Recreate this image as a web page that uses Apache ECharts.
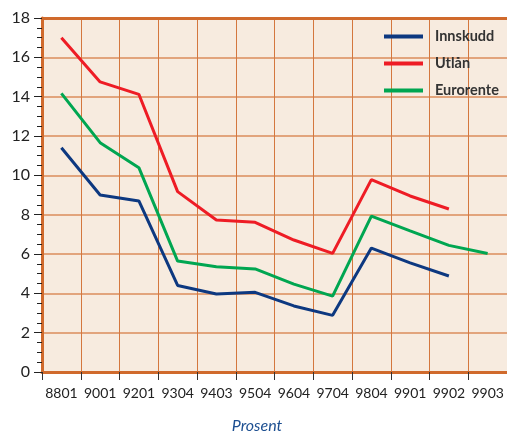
<!DOCTYPE html>
<html><head><meta charset="utf-8">
<script src="https://cdn.jsdelivr.net/npm/echarts@6/dist/echarts.min.js"></script>
<style>html,body{margin:0;padding:0;background:#fff}#c{width:507px;height:434px}</style>
</head><body><div id="c"></div>
<script>
var categories = ['8801','9001','9201','9304','9403','9504','9604','9704','9804','9901','9902','9903'];
var innskudd = [11.4, 9.0, 8.7, 4.4, 3.97, 4.05, 3.36, 2.88, 6.3, 5.55, 4.88, null];
var utlan = [17.0, 14.75, 14.12, 9.17, 7.73, 7.61, 6.71, 6.03, 9.78, 8.95, 8.29, null];
var eurorente = [14.17, 11.66, 10.39, 5.64, 5.35, 5.24, 4.47, 3.86, 7.93, 7.18, 6.44, 6.03];
var yTicks = {min: 0, max: 18, interval: 2};

var chart = echarts.init(document.getElementById('c'), null, {renderer: 'canvas'});
var font = 'Lato, "DejaVu Sans", sans-serif';
function line(name, data, color) {
  return {name: name, type: 'line', data: data, symbol: 'none', connectNulls: false,
    lineStyle: {color: color, width: 3}, itemStyle: {color: color}};
}
chart.setOption({
  animation: false,
  grid: {left: 42, right: 0, top: 18, bottom: 62, show: true, backgroundColor: '#f7ebdf', borderWidth: 0},
  title: {text: 'Prosent', left: 252, textAlign: 'center', top: 413,
    textStyle: {fontFamily: font, fontStyle: 'italic', fontWeight: 'normal', fontSize: 16, color: '#1d4f91'}},
  legend: {orient: 'vertical', left: 384, top: 29, padding: 0, itemWidth: 39, itemHeight: 4, itemGap: 12, icon: 'rect',
    textStyle: {fontFamily: font, fontWeight: 'bold', fontSize: 14.5, color: '#333', padding: [0, 0, 0, 7]},
    data: ['Innskudd', 'Utlån', 'Eurorente']},
  xAxis: [{
    type: 'category', data: categories, boundaryGap: true,
    axisLine: {lineStyle: {color: '#d06a2c', width: 3}},
    axisTick: {show: true, alignWithLabel: false, length: 8, lineStyle: {color: '#333', width: 1}},
    axisLabel: {fontFamily: font, fontSize: 14, color: '#222', margin: 14, interval: 0},
    splitLine: {show: true, interval: 0, lineStyle: {color: '#d4773e', width: 1}}
  }, {
    type: 'category', position: 'top', data: categories,
    axisLine: {show: true, lineStyle: {color: '#d06a2c', width: 3}},
    axisTick: {show: false}, axisLabel: {show: false}, splitLine: {show: false}
  }],
  yAxis: {
    type: 'value', min: yTicks.min, max: yTicks.max, interval: yTicks.interval,
    axisLine: {show: true, lineStyle: {color: '#d06a2c', width: 3}},
    axisTick: {show: true, length: 8, lineStyle: {color: '#222', width: 1}},
    minorTick: {show: true, splitNumber: 4, length: 5, lineStyle: {color: '#222', width: 1}},
    axisLabel: {fontFamily: font, fontSize: 16, color: '#222', margin: 12},
    splitLine: {show: true, lineStyle: {color: '#e2a47c', width: 2}}
  },
  series: [
    line('Innskudd', innskudd, '#0d3880'),
    line('Utlån', utlan, '#ee1c25'),
    line('Eurorente', eurorente, '#00a651')
  ]
});
</script></body></html>
